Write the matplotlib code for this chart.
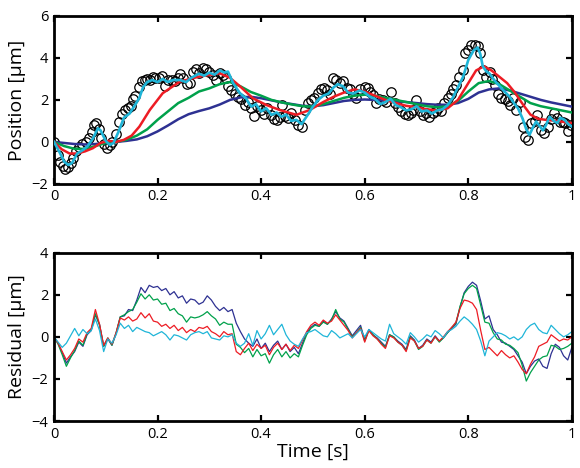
import matplotlib
matplotlib.use("Agg")
import matplotlib.pyplot as plt
import numpy as np

plt.rcParams['font.family'] = ['Open Sans', 'DejaVu Sans']

# ---------------- data: measured positions (circles) ----------------
data_t = [0.000, 0.008, 0.012, 0.017, 0.022, 0.027, 0.032, 0.037, 0.043, 0.049,
          0.055, 0.062, 0.068, 0.073, 0.078, 0.082, 0.087, 0.091, 0.097, 0.103,
          0.108, 0.113, 0.119, 0.125, 0.132, 0.138, 0.143, 0.148, 0.152, 0.157,
          0.164, 0.170, 0.175, 0.180, 0.186, 0.191, 0.196, 0.202, 0.208, 0.214,
          0.220, 0.227, 0.233, 0.239, 0.244, 0.250, 0.256, 0.262, 0.269, 0.275,
          0.281, 0.288, 0.294, 0.300, 0.307, 0.313, 0.320, 0.326, 0.332, 0.337,
          0.342, 0.349, 0.355, 0.361, 0.368, 0.374, 0.380, 0.387, 0.393, 0.400,
          0.406, 0.412, 0.419, 0.425, 0.431, 0.437, 0.441, 0.447, 0.452, 0.458,
          0.465, 0.472, 0.478, 0.484, 0.490, 0.497, 0.503, 0.510, 0.516, 0.522,
          0.528, 0.533, 0.539, 0.545, 0.552, 0.558, 0.565, 0.571, 0.577, 0.583,
          0.590, 0.600, 0.606, 0.611, 0.616, 0.622, 0.628, 0.635, 0.642, 0.651,
          0.658, 0.664, 0.671, 0.677, 0.683, 0.689, 0.694, 0.700, 0.706, 0.713,
          0.719, 0.725, 0.732, 0.737, 0.742, 0.748, 0.754, 0.761, 0.766, 0.771,
          0.777, 0.783, 0.789, 0.793, 0.800, 0.806, 0.812, 0.818, 0.823, 0.828,
          0.835, 0.841, 0.846, 0.851, 0.857, 0.864, 0.870, 0.876, 0.881, 0.887,
          0.893, 0.899, 0.905, 0.910, 0.915, 0.922, 0.928, 0.933, 0.941, 0.947,
          0.954, 0.960, 0.965, 0.971, 0.977, 0.983, 0.987, 0.992, 0.999]
data_pos = [0.00, -0.60, -0.95, -1.15, -1.30, -1.20, -1.00, -0.75, -0.45, -0.25,
            -0.10, 0.00, 0.20, 0.45, 0.80, 0.90, 0.60, 0.20, -0.10, -0.30,
            -0.15, 0.00, 0.40, 0.95, 1.35, 1.50, 1.60, 1.70, 2.05, 2.20,
            2.60, 2.90, 2.95, 3.00, 2.95, 3.10, 3.05, 3.05, 3.15, 2.65,
            2.95, 2.95, 2.90, 3.05, 3.25, 3.05, 2.75, 2.80, 3.35, 3.45,
            3.30, 3.50, 3.45, 3.35, 3.20, 2.95, 3.30, 3.20, 3.05, 2.65,
            2.45, 2.30, 2.15, 2.05, 1.75, 1.90, 1.60, 1.25, 1.70, 1.50,
            1.35, 1.60, 1.30, 1.10, 1.05, 1.20, 1.75, 1.25, 1.15, 1.37,
            1.05, 0.80, 0.73, 1.52, 1.84, 2.00, 2.10, 2.32, 2.50, 2.56,
            2.45, 2.30, 3.03, 2.95, 2.80, 2.90, 2.55, 2.50, 2.30, 2.10,
            2.50, 2.63, 2.55, 2.40, 2.24, 1.84, 2.05, 2.00, 1.92, 2.40,
            1.84, 1.68, 1.45, 1.35, 1.30, 1.37, 1.52, 2.00, 1.45, 1.30,
            1.37, 1.20, 1.37, 1.45, 1.60, 1.45, 1.84, 2.10, 2.30, 2.50,
            2.70, 3.10, 3.43, 4.22, 4.38, 4.62, 4.62, 4.55, 4.22, 3.43,
            3.10, 3.35, 3.00, 2.71, 2.30, 2.10, 2.05, 1.95, 1.76, 2.10,
            1.52, 1.92, 0.73, 0.25, 0.09, 0.89, 1.00, 1.29, 0.57, 0.41,
            0.73, 1.10, 1.37, 1.13, 0.97, 0.95, 0.89, 0.50, 0.81]

# ---------------- fitted curves ----------------
navy_t = [0.00, 0.02, 0.04, 0.06, 0.08, 0.10, 0.12, 0.14, 0.16, 0.18, 0.20, 0.22,
          0.24, 0.26, 0.28, 0.30, 0.32, 0.34, 0.36, 0.38, 0.40, 0.42, 0.44, 0.46,
          0.48, 0.50, 0.52, 0.54, 0.56, 0.58, 0.60, 0.62, 0.64, 0.66, 0.68, 0.70,
          0.72, 0.74, 0.76, 0.78, 0.80, 0.82, 0.84, 0.86, 0.88, 0.90, 0.92, 0.94,
          0.96, 0.98, 1.00]
navy_fit = [0.00, -0.05, -0.10, -0.12, -0.10, -0.05, 0.00, 0.05, 0.12, 0.27, 0.50, 0.78,
            1.08, 1.32, 1.47, 1.60, 1.78, 2.00, 2.12, 2.15, 2.08, 1.98, 1.88, 1.80,
            1.72, 1.70, 1.75, 1.85, 1.95, 2.00, 2.02, 2.00, 1.97, 1.93, 1.90, 1.85,
            1.80, 1.77, 1.77, 1.85, 2.05, 2.35, 2.50, 2.55, 2.45, 2.30, 2.15, 2.00,
            1.88, 1.78, 1.68]

green_t = [0.00, 0.02, 0.04, 0.06, 0.08, 0.10, 0.12, 0.14, 0.16, 0.18, 0.20, 0.22,
           0.24, 0.26, 0.28, 0.30, 0.32, 0.34, 0.36, 0.38, 0.40, 0.42, 0.44, 0.46,
           0.48, 0.50, 0.52, 0.54, 0.56, 0.58, 0.60, 0.62, 0.64, 0.66, 0.68, 0.70,
           0.72, 0.74, 0.76, 0.78, 0.80, 0.82, 0.84, 0.86, 0.88, 0.90, 0.92, 0.94,
           0.96, 0.98, 1.00]
green_fit = [0.00, -0.20, -0.33, -0.33, -0.20, -0.05, 0.00, 0.10, 0.30, 0.60, 1.05, 1.45,
             1.85, 2.10, 2.40, 2.55, 2.75, 2.85, 2.65, 2.38, 2.20, 2.00, 1.88, 1.78,
             1.70, 1.68, 1.80, 1.95, 2.10, 2.20, 2.25, 2.20, 2.10, 2.00, 1.90, 1.80,
             1.70, 1.65, 1.70, 1.95, 2.40, 2.80, 2.90, 2.75, 2.45, 2.15, 1.85, 1.70,
             1.60, 1.50, 1.40]

red_t = [0.000, 0.015, 0.030, 0.045, 0.060, 0.075, 0.090, 0.105, 0.120, 0.135,
         0.150, 0.165, 0.185, 0.210, 0.243, 0.280, 0.320, 0.340, 0.360, 0.384,
         0.410, 0.436, 0.468, 0.494, 0.520, 0.540, 0.560, 0.580, 0.600, 0.620,
         0.640, 0.660, 0.680, 0.700, 0.720, 0.740, 0.760, 0.780, 0.800, 0.815,
         0.830, 0.845, 0.860, 0.875, 0.890, 0.905, 0.920, 0.935, 0.950, 0.970,
         1.000]
red_fit = [0.00, -0.35, -0.55, -0.55, -0.45, -0.30, -0.05, 0.05, 0.00, 0.10,
           0.30, 0.73, 1.52, 2.32, 2.87, 3.11, 3.27, 3.05, 2.63, 2.08,
           1.76, 1.52, 1.29, 1.52, 1.90, 2.15, 2.35, 2.50, 2.40, 2.20,
           2.00, 1.85, 1.72, 1.65, 1.55, 1.50, 1.60, 2.00, 2.80, 3.40,
           3.60, 3.40, 3.10, 2.80, 2.35, 1.80, 1.30, 1.10, 1.05, 1.00,
           0.90]

cyan_t = [0.000, 0.010, 0.020, 0.028, 0.035, 0.045, 0.055, 0.065, 0.075, 0.085,
          0.090, 0.100, 0.108, 0.115, 0.125, 0.135, 0.146, 0.155, 0.165, 0.172,
          0.180, 0.190, 0.200, 0.210, 0.220, 0.230, 0.243, 0.255, 0.265, 0.280,
          0.290, 0.300, 0.310, 0.320, 0.330, 0.336, 0.346, 0.359, 0.371, 0.376,
          0.381, 0.390, 0.400, 0.410, 0.420, 0.430, 0.439, 0.448, 0.458, 0.468,
          0.478, 0.490, 0.500, 0.510, 0.520, 0.530, 0.540, 0.548, 0.558, 0.568,
          0.578, 0.590, 0.600, 0.610, 0.620, 0.630, 0.640, 0.650, 0.660, 0.670,
          0.680, 0.690, 0.700, 0.710, 0.720, 0.730, 0.740, 0.750, 0.760, 0.770,
          0.780, 0.790, 0.800, 0.810, 0.818, 0.823, 0.828, 0.835, 0.841, 0.850,
          0.857, 0.868, 0.880, 0.888, 0.896, 0.905, 0.912, 0.918, 0.925, 0.931,
          0.938, 0.944, 0.950, 0.957, 0.965, 0.972, 0.978, 0.986, 0.993, 1.000]
cyan_fit = [0.00, -0.45, -0.95, -1.10, -1.00, -0.55, -0.40, -0.20, 0.15, 0.65,
            0.55, 0.05, -0.15, -0.05, 0.50, 1.15, 1.35, 1.70, 2.10, 2.60,
            2.85, 2.95, 2.85, 3.00, 2.85, 2.95, 2.95, 2.85, 3.05, 3.25,
            3.15, 3.30, 3.20, 3.40, 3.30, 3.35, 2.80, 2.32, 2.08, 1.85,
            1.68, 1.80, 1.45, 1.60, 1.29, 1.40, 1.20, 1.30, 1.00, 1.05,
            0.85, 1.29, 1.68, 2.00, 2.20, 2.30, 2.60, 2.75, 2.65, 2.35,
            2.30, 2.45, 2.35, 2.15, 2.05, 1.80, 1.90, 2.05, 1.75, 1.65,
            1.50, 1.55, 1.70, 1.45, 1.50, 1.35, 1.50, 1.55, 1.75, 2.10,
            2.60, 3.10, 3.90, 4.35, 4.50, 4.20, 3.60, 3.35, 3.25, 2.95,
            2.75, 2.45, 2.15, 1.85, 1.60, 1.10, 0.60, 0.33, 0.70, 0.97,
            0.75, 0.55, 0.80, 1.20, 1.00, 0.90, 1.15, 1.05, 0.85, 0.73]

# ---------------- residuals ----------------
res_t = np.linspace(0, 1, 126)
res_navy = [0.00, -0.30, -0.75, -1.25, -0.95, -0.70, -0.25, -0.45, 0.10, 0.30,
            1.05, 0.60, -0.45, -0.10, -0.40, 0.15, 0.95, 1.00, 1.30, 1.25,
            1.75, 2.35, 2.10, 2.45, 2.35, 2.40, 2.20, 2.30, 2.00, 2.15,
            1.85, 1.95, 1.60, 1.80, 1.75, 1.55, 1.65, 1.95, 1.75, 1.45,
            1.25, 1.40, 1.20, 1.30, 0.65, 0.25, -0.10, -0.30, -0.45, -0.10,
            -0.55, -0.30, -0.70, -0.40, -0.20, -0.60, -0.35, -0.70, -0.50, -0.80,
            -0.30, 0.20, 0.45, 0.60, 0.50, 0.75, 0.60, 0.85, 1.20, 0.90,
            0.75, 0.40, 0.05, 0.30, 0.55, -0.15, 0.35, 0.10, -0.05, -0.25,
            -0.45, 0.10, 0.00, -0.20, -0.35, -0.60, 0.05, -0.15, -0.55, -0.40,
            -0.10, -0.25, 0.05, -0.20, -0.05, 0.20, 0.40, 0.60, 1.40, 2.10,
            2.40, 2.60, 2.45, 1.70, 0.85, 1.00, 0.35, 0.10, -0.25, -0.30,
            -0.45, -0.60, -0.90, -1.20, -1.75, -1.40, -1.15, -1.05, -1.40, -1.50,
            -0.80, -0.35, -0.50, -0.90, -1.10, -0.50]
res_green = [0.00, -0.35, -0.85, -1.40, -1.00, -0.65, -0.20, -0.40, 0.15, 0.35,
             1.10, 0.55, -0.45, -0.05, -0.40, 0.20, 0.95, 1.05, 1.20, 1.30,
             1.65, 2.05, 1.80, 2.00, 1.75, 1.80, 1.55, 1.60, 1.25, 1.35,
             1.10, 1.00, 0.70, 0.95, 0.90, 0.95, 1.05, 1.20, 1.00, 0.85,
             0.55, 0.70, 0.60, 0.60, -0.35, -0.50, -0.75, -0.55, -0.95, -0.60,
             -0.90, -0.80, -1.25, -0.85, -0.60, -0.95, -0.70, -1.00, -0.80, -0.95,
             -0.40, 0.10, 0.40, 0.55, 0.50, 0.70, 0.60, 0.80, 1.30, 0.85,
             0.70, 0.35, 0.00, 0.20, 0.45, -0.20, 0.30, 0.10, -0.10, -0.30,
             -0.50, 0.10, 0.00, -0.25, -0.40, -0.65, 0.00, -0.20, -0.60, -0.45,
             -0.15, -0.30, 0.00, -0.25, -0.05, 0.20, 0.45, 0.65, 1.45, 2.05,
             2.30, 2.45, 2.30, 1.50, 0.70, 0.65, 0.20, -0.10, -0.15, -0.35,
             -0.40, -0.55, -0.75, -1.35, -2.10, -1.70, -1.40, -1.10, -0.95, -0.90,
             -0.40, -0.45, -0.60, -0.55, -0.45, -0.30]
res_red = [0.00, -0.30, -0.70, -1.10, -0.85, -0.55, -0.10, -0.25, 0.20, 0.40,
           1.30, 0.60, -0.40, -0.05, -0.35, 0.20, 0.90, 0.80, 0.95, 0.75,
           0.85, 1.15, 0.90, 1.10, 0.75, 0.70, 0.50, 0.60, 0.40, 0.55,
           0.30, 0.45, 0.20, 0.35, 0.25, 0.45, 0.40, 0.50, 0.25, 0.15,
           0.00, 0.25, 0.10, 0.15, -0.70, -0.85, -0.55, -0.30, -0.65, -0.35,
           -0.55, -0.40, -0.85, -0.50, -0.30, -0.60, -0.35, -0.65, -0.40, -0.55,
           -0.15, 0.25, 0.55, 0.70, 0.55, 0.80, 0.65, 0.75, 1.05, 0.80,
           0.55, 0.30, -0.05, 0.20, 0.40, -0.25, 0.30, 0.05, -0.10, -0.35,
           -0.55, 0.05, -0.05, -0.25, -0.40, -0.70, -0.05, -0.20, -0.55, -0.45,
           -0.15, -0.30, 0.00, -0.20, 0.00, 0.25, 0.45, 0.70, 1.35, 1.75,
           1.70, 1.60, 1.30, 0.30, -0.60, -0.50, -0.70, -0.90, -0.65, -0.85,
           -1.00, -0.90, -1.20, -1.55, -1.75, -1.30, -0.95, -0.45, -0.35, -0.25,
           0.10, -0.05, -0.20, -0.10, -0.15, 0.00]
res_cyan = [0.00, -0.25, -0.50, -0.30, 0.05, 0.40, 0.05, 0.35, 0.15, 0.30,
            0.85, 0.30, -0.70, -0.10, -0.30, 0.10, 0.65, 0.40, 0.55, 0.25,
            0.45, 0.35, 0.25, 0.20, 0.05, 0.15, 0.25, 0.10, -0.15, 0.10,
            0.05, -0.05, -0.15, 0.10, 0.20, 0.25, 0.15, 0.25, -0.05, -0.10,
            -0.15, 0.05, 0.00, 0.10, -0.30, -0.45, -0.30, 0.15, -0.40, 0.30,
            -0.10, 0.15, 0.55, 0.10, 0.35, 0.60, 0.10, -0.20, -0.35, -0.45,
            -0.10, 0.20, 0.25, 0.35, 0.20, 0.05, 0.00, 0.30, 0.15, -0.05,
            0.05, 0.15, -0.05, 0.15, 0.35, 0.00, 0.35, 0.20, 0.05, -0.10,
            -0.20, 0.60, 0.15, 0.00, -0.15, -0.35, 0.20, 0.00, -0.25, -0.10,
            0.10, 0.00, 0.30, 0.15, -0.05, 0.25, 0.35, 0.50, 0.75, 0.95,
            0.80, 0.60, 0.35, -0.20, -0.90, -0.20, 0.00, 0.20, 0.15, 0.05,
            -0.10, 0.00, -0.15, 0.00, 0.35, 0.55, 0.65, 0.35, 0.20, 0.15,
            0.55, 0.35, 0.15, 0.00, 0.10, 0.25]

x_ticks = [0, 0.2, 0.4, 0.6, 0.8, 1]
x_tick_labels = ["0", "0.2", "0.4", "0.6", "0.8", "1"]
top_yticks = [-2, 0, 2, 4, 6]
bot_yticks = [-4, -2, 0, 2, 4]

NAVY = '#2e3192'
GREEN = '#00a14b'
RED = '#ed1c24'
CYAN = '#1fb5d8'

fig = plt.figure(figsize=(5.8, 4.68), dpi=100)
ax1 = fig.add_axes([0.093, 0.607, 0.893, 0.359])
ax2 = fig.add_axes([0.093, 0.1004, 0.893, 0.3596])

ax1.plot(data_t, data_pos, 'o', mfc='none', mec='black', ms=6.8, mew=0.9, zorder=2)
ax1.plot(navy_t, navy_fit, color=NAVY, lw=1.8, zorder=3)
ax1.plot(green_t, green_fit, color=GREEN, lw=1.8, zorder=3)
ax1.plot(red_t, red_fit, color=RED, lw=1.8, zorder=3)
ax1.plot(cyan_t, cyan_fit, color=CYAN, lw=1.9, zorder=4)

ax2.plot(res_t, res_navy, color=NAVY, lw=0.9)
ax2.plot(res_t, res_green, color=GREEN, lw=0.9)
ax2.plot(res_t, res_red, color=RED, lw=0.9)
ax2.plot(res_t, res_cyan, color=CYAN, lw=0.9)

for ax, yt, ylab in [(ax1, top_yticks, 'Position [μm]'), (ax2, bot_yticks, 'Residual [μm]')]:
    ax.set_xlim(0, 1)
    ax.set_ylim(yt[0], yt[-1])
    ax.set_xticks(x_ticks)
    ax.set_xticklabels(x_tick_labels)
    ax.set_yticks(yt)
    ax.set_yticklabels([str(v).replace('-', '\u2212') for v in yt])
    ax.tick_params(direction='in', length=4, width=1.6, top=True, right=True,
                   labelsize=10.5, pad=4)
    for s in ax.spines.values():
        s.set_linewidth(2.0)
    ax.set_ylabel(ylab, fontsize=14, labelpad=4)

ax2.set_xlabel('Time [s]', fontsize=14, labelpad=1)

fig.savefig('out.png', dpi=100)
